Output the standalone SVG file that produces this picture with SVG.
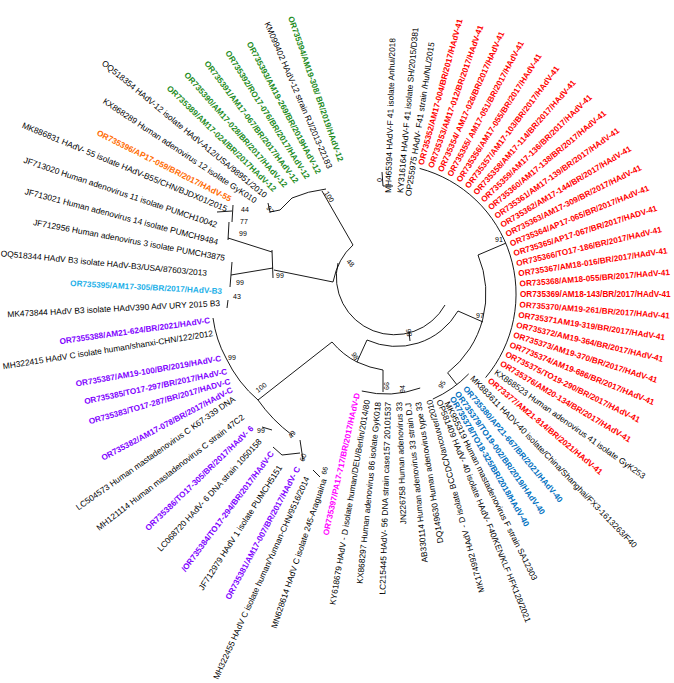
<svg xmlns="http://www.w3.org/2000/svg" width="674" height="683" viewBox="0 0 674 683">
<style>
text{font-family:"Liberation Sans",Arial,sans-serif;}
.k{font-size:8.4px;fill:#000;}
.r{font-size:8.2px;font-weight:bold;fill:#ff0000;}
.g{font-size:8.2px;font-weight:bold;fill:#228b22;}
.o{font-size:8.2px;font-weight:bold;fill:#ff6a00;}
.c{font-size:8.2px;font-weight:bold;fill:#1cb0e8;}
.p{font-size:8.2px;font-weight:bold;fill:#8000ff;}
.m{font-size:8.2px;font-weight:bold;fill:#ff00ff;}
.b{font-size:8.2px;font-weight:bold;fill:#0070c0;}
.L{text-anchor:end;}
.bs{font-size:7px;fill:#000;}
.ln{fill:none;stroke:#000;stroke-width:0.9;}
</style>
<g id="connectors" class="ln">
<path d="M338,263 A58,58 0 0 0 445,305"/>
<path d="M353,245 L322,191"/>
<path d="M353,245 Q338,258 333,282"/>
<path d="M333,282 L274,270"/>
<path d="M292,198 Q308,191 326,189"/>
<path d="M268,203 L270,212 L280,210 L292,198"/>
<path d="M217,212 L232,211"/>
<path d="M233,205 L232,222"/>
<path d="M229,222 L228,240"/>
<path d="M228,238 L272,252"/>
<path d="M272,250 L273,278"/>
<path d="M232,262 L230,287"/>
<path d="M231,275 L273,268"/>
<path d="M228,300 L227,308"/>
<path d="M332,342 L258,400"/>
<path d="M332,342 Q343,355 357,362 Q370,368 383,370"/>
<path d="M357,362 L367,340"/>
<path d="M367,340 A71,71 0 0 0 458,311"/>
<path d="M409,332 L410,341"/>
<path d="M458,311 L483,322"/>
<path d="M213,318 Q216,340 226,358"/>
<path d="M226,358 Q238,383 258,400 Q272,420 292,435"/>
<path d="M262,427 L272,430"/>
<path d="M273,447 L282,455 L300,453"/>
<path d="M300,440 L303,460"/>
<path d="M313,470 L320,477"/>
<path d="M383,370 L383,392"/>
<path d="M361.8,391 A100,100 0 0 0 420.2,388"/>
<path d="M478,255 A100,100 0 0 1 447.6,372.8 L456.8,384.6"/>
<path d="M468.7,373.9 A115,115 0 0 1 432.8,399.1"/>
<path d="M478,255 L505.7,243.2"/>
<path d="M419.6,168.4 A130,130 0 0 1 485.6,377.6"/>
<path d="M382,172 L383,186 L393,186"/>
</g>
<g id="bootstrap">
<text class="bs" transform="translate(324,193) rotate(58)">100</text>
<text class="bs" transform="translate(266,208) rotate(55)">97</text>
<text class="bs" x="241" y="212">44</text>
<text class="bs" x="240" y="224">77</text>
<text class="bs" x="239" y="236">99</text>
<text class="bs" x="276" y="278">99</text>
<text class="bs" x="236" y="285">99</text>
<text class="bs" x="233" y="299">43</text>
<text class="bs" transform="translate(346,262) rotate(45)">48</text>
<text class="bs" transform="translate(412,336) rotate(-100)">86</text>
<text class="bs" transform="translate(351,354) rotate(60)">98</text>
<text class="bs" transform="translate(258,393) rotate(-38)">100</text>
<text class="bs" x="228" y="360">99</text>
<text class="bs" transform="translate(292,439) rotate(-60)">49</text>
<text class="bs" x="257" y="433">99</text>
<text class="bs" transform="translate(304,462) rotate(-70)">60</text>
<text class="bs" transform="translate(326,475) rotate(-75)">66</text>
<text class="bs" transform="translate(384,382) rotate(90)">99</text>
<text class="bs" transform="translate(405,393) rotate(-90)">94</text>
<text class="bs" x="495" y="242">91</text>
<text class="bs" x="476" y="318">97</text>
<text class="bs" transform="translate(442,389) rotate(-60)">95</text>
<text class="bs" transform="translate(377,178) rotate(90)">0</text>
</g>
<g id="taxa-right">
<text class="k" transform="translate(388,193) rotate(-88.4)" y="3">MH465394 HAdV-F 41 isolate Anhui/2018</text>
<text class="k" transform="translate(400,193) rotate(-84.7)" y="3">KY316164 HAdV-F 41 isolate SH/2015/D381</text>
<text class="k" transform="translate(408,196) rotate(-81.3)" y="3">OP255975 HAdV- F41 strain /Hu/NL/2015</text>
<text class="r" transform="translate(420.7,164.6) rotate(-75)" y="3">OR735352/AM17-004/BR/2017/HAdV-41</text>
<text class="r" transform="translate(430.5,167.6) rotate(-70.59)" y="3">OR735353/AM17-012/BR/2017/HAdV-41</text>
<text class="r" transform="translate(440.1,171.4) rotate(-66.18)" y="3">OR735354/ AM17-026/BR/2017/HAdV-41</text>
<text class="r" transform="translate(449.4,175.9) rotate(-61.77)" y="3">OR735355/ AM17-051/BR/2017/HAdV-41</text>
<text class="r" transform="translate(458.3,181.2) rotate(-57.36)" y="3">OR735356/AM17-055/BR/2017/HAdV-41</text>
<text class="r" transform="translate(466.7,187.1) rotate(-52.95)" y="3">OR735357/AM17-103/BR/2017/HAdV-41</text>
<text class="r" transform="translate(474.7,193.6) rotate(-48.54)" y="3">OR735358/AM17-114/BR/2017/HAdV-41</text>
<text class="r" transform="translate(482.2,200.7) rotate(-44.13)" y="3">OR735359/AM17-136/BR/2017/HAdV-41</text>
<text class="r" transform="translate(489,208.3) rotate(-39.72)" y="3">OR735360/AM17-138/BR/2017/HAdV-41</text>
<text class="r" transform="translate(495.3,216.6) rotate(-35.31)" y="3">OR735361/AM17-139/BR/2017/HAdV-41</text>
<text class="r" transform="translate(501,225.2) rotate(-30.9)" y="3">OR735362/AM17-144/BR/2017/HAdV-41</text>
<text class="r" transform="translate(505.9,234.2) rotate(-26.49)" y="3">OR735363/AM17-309/BR/2017/HAdV-41</text>
<text class="r" transform="translate(510.2,243.6) rotate(-22.08)" y="3">OR735364/AP17-065/BR/2017/HAdV-41</text>
<text class="r" transform="translate(513.7,253.3) rotate(-17.67)" y="3">OR735365/AP17-067/BR/2017/HADV-41</text>
<text class="r" transform="translate(516.4,263.3) rotate(-13.26)" y="3">OR735366/TO17-186/BR/2017/HAdV-41</text>
<text class="r" transform="translate(518.4,273.4) rotate(-8.85)" y="3">OR735367/AM18-016/BR/2017/HAdV-41</text>
<text class="r" transform="translate(519.6,283.6) rotate(-4.44)" y="3">OR735368/AM18-055/BR/2017/HAdV-41</text>
<text class="r" transform="translate(520,293.9) rotate(0)" y="3">OR735369/AM18-143/BR/2017/HAdV-41</text>
<text class="r" transform="translate(519.6,304.2) rotate(4.38)" y="3">OR735370/AM19-261/BR/2017/HAdV-41</text>
<text class="r" transform="translate(518.4,314.5) rotate(8.79)" y="3">OR735371AM19-319/BR/2017/HAdV-41</text>
<text class="r" transform="translate(516.5,324.6) rotate(13.2)" y="3">OR735372/AM19-364/BR/2017/HAdV-41</text>
<text class="r" transform="translate(513.7,334.5) rotate(17.61)" y="3">OR735373/AM19-370/BR/2017/HAdV-41</text>
<text class="r" transform="translate(510.2,344.2) rotate(22.02)" y="3">OR7735374/AM19-686/BR/2017/HAdV-41</text>
<text class="r" transform="translate(506,353.6) rotate(26.43)" y="3">OR735375/TO19-290/BR/2017/HAdV-41</text>
<text class="r" transform="translate(501.1,362.7) rotate(30.84)" y="3">OR735376/AM20-134/BR/2017/HAdV-41</text>
<text class="k" transform="translate(495.4,371.3) rotate(35.25)" y="3">KX868523 Human adenovirus 41 isolate GyK253</text>
<text class="r" transform="translate(489.2,379.5) rotate(39.66)" y="3">OR73377/AM21-814/BR/2021/HAdV-41</text>
<text class="k" transform="translate(472,377) rotate(46)" y="3">MK883611 HADV-40 isolate/China/Shanghai/FX3-1613263/F40</text>
<text class="b" transform="translate(465,387) rotate(49.8)" y="3">OR735380/AP21-667/BR/2021/HAdV-40</text>
<text class="b" transform="translate(457,392) rotate(54.6)" y="3">OR735379/TO19-002/BR/2019/HAdV-40</text>
<text class="b" transform="translate(452,397) rotate(59.6)" y="3">OR735378/TO18-325/BR/2018/HAdV-40</text>
<text class="k" transform="translate(447,402) rotate(63.6)" y="3">MK955319 Human mastadenovirus F strain SA12303</text>
<text class="k" transform="translate(439,400) rotate(68)" y="3">OP581409 HAdV- 40 isolate HAdV- F40/KEN/KLF HFK128/2021</text>
</g>
<g id="taxa-left">
<text class="k L" transform="translate(429,400) rotate(-105.3)" y="3">MK174992 HAdV - D isolate BCCDC/Vancouver/2010</text>
<text class="k L" transform="translate(418,402) rotate(-99)" y="3">DQ149630 Human adenovirus type 33</text>
<text class="k L" transform="translate(408,403) rotate(-96)" y="3">AB330114 Human adenovirus 33 strain D.J</text>
<text class="k L" transform="translate(399,402) rotate(-92)" y="3">JN226758 Human adenovirus 33</text>
<text class="k L" transform="translate(388,402) rotate(-88.3)" y="3">LC215445 HAdV- 56 DNA strain case157 20101537</text>
<text class="k L" transform="translate(378,402) rotate(-84.2)" y="3">KX868297 Human adenovirus 86 isolate GyK018</text>
<text class="k L" transform="translate(367,400) rotate(-80.4)" y="3">KY618679 HAdV - D isolate human/DEU/Berlin/2014/80</text>
<text class="m L" transform="translate(357,393) rotate(-77.5)" y="3">OR735397/PA17-717/BR/2017/HAdV-D</text>
<text class="k L" transform="translate(324,479) rotate(-71.3)" y="3">MN628614 HAdV  C isolate 245-Araguaina</text>
<text class="k L" transform="translate(307,477) rotate(-65.6)" y="3">MH322455 HAdV  C isolate human/Yunnan-CHN/9516/2014</text>
<text class="p L" transform="translate(298,467) rotate(-61.8)" y="3">OR735381/AM17-007/BR/2017/HAdV- C</text>
<text class="k L" transform="translate(280,466) rotate(-57.2)" y="3">JF712979 HAdV  1 isolate PUMCH5151</text>
<text class="p L" transform="translate(272,452) rotate(-53.1)" y="3">/OR735384/TO17-294/BR/2017/HAdV-C</text>
<text class="k L" transform="translate(260,440) rotate(-47.4)" y="3">LC068720 HAdV- 6 DNA strain 1050158</text>
<text class="p L" transform="translate(252,427) rotate(-44)" y="3">OR735386/TO17-305/BR/2017/HAdV- 6</text>
<text class="k L" transform="translate(243,416) rotate(-37.7)" y="3">MH121114 Human mastadenovirus C strain 47C2</text>
<text class="k L" transform="translate(234,398) rotate(-35)" y="3">LC504573 Human mastadenovirus C K67-339 DNA</text>
<text class="p L" transform="translate(232,389) rotate(-28)" y="3">OR735382/AM17-078/BR/2017/HAdV-C</text>
<text class="p L" transform="translate(230,381) rotate(-16)" y="3">OR735383/TO17-287/BR/2017/HADV-C</text>
<text class="p L" transform="translate(227,371) rotate(-12)" y="3">OR735385/TO17-297/BR/2017/HAdV-C</text>
<text class="p L" transform="translate(221,358) rotate(-10)" y="3">OR735387/AM19-100/BR/2019/HAdV-C</text>
<text class="k L" transform="translate(213,333) rotate(-9)" y="3">MH322415 HAdV C isolate human/shanxi-CHN/122/2012</text>
<text class="p L" transform="translate(210,320) rotate(-8)" y="3">OR7355388/AM21-624/BR/2021/HAdV-C</text>
<text class="k L" transform="translate(220,303) rotate(-3)" y="3">MK473844 HAdV  B3 isolate HAdV390 AdV URY 2015 B3</text>
<text class="c L" transform="translate(222,291) rotate(3)" y="3">OR735395/AM17-305/BR/2017/HAdV-B3</text>
<text class="k L" transform="translate(207,273) rotate(5.5)" y="3">OQ518344 HAdV B3 isolate HAdV-B3/USA/87603/2013</text>
<text class="k L" transform="translate(225,258) rotate(10.6)" y="3">JF712956 Human adenovirus 3 isolate PUMCH3875</text>
<text class="k L" transform="translate(218,242) rotate(14.8)" y="3">JF713021 Human adenovirus 14 isolate PUMCH9484</text>
<text class="k L" transform="translate(217,225) rotate(18.7)" y="3">JF713020 Human adenovirus 11 isolate PUMCH10042</text>
<text class="k L" transform="translate(227,209) rotate(22.4)" y="3">MK886831 HAdV- 55 isolate HAdV-B55/CHN/BJDX01/2015</text>
<text class="o L" transform="translate(231,199) rotate(26.6)" y="3">OR735396/AP17-059/BR/2017/HAdV-55</text>
<text class="k L" transform="translate(256,201) rotate(33.5)" y="3">KX868289 Human adenovirus 12 isolate GyK010</text>
<text class="k L" transform="translate(266,196) rotate(39.5)" y="3">OQ518354 HAdV-12 isolate HAdV-A12/USA/98951/2010</text>
<text class="g L" transform="translate(275,190) rotate(44.1)" y="3">OR735389/AM17-024/BR/2017HAdV-12</text>
<text class="g L" transform="translate(286,186) rotate(48.4)" y="3">OR735390/AM17-028/BR/2017/HAdV-12</text>
<text class="g L" transform="translate(297,182) rotate(53)" y="3">OR735391/AM17-067/BR/2017/HAdV-12</text>
<text class="g L" transform="translate(308,178) rotate(57.6)" y="3">OR735392/RO17-076/BR/2017/HAdV-12</text>
<text class="g L" transform="translate(319,173) rotate(61.9)" y="3">OR735393/AM19-269/BR/2019HAdV-12</text>
<text class="k L" transform="translate(330,168) rotate(66.6)" y="3">KM099402 HAdV-12 strain RJ/2013-22183</text>
<text class="g L" transform="translate(341,161) rotate(70.8)" y="3">OR735394/AM19-308/ BR/2019/HAdV-12</text>
</g>
</svg>
